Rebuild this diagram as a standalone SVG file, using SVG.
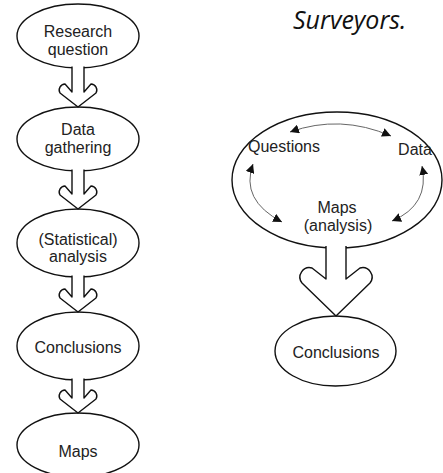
<svg xmlns="http://www.w3.org/2000/svg" width="443" height="473" viewBox="0 0 443 473">
<style>
.node{fill:#fff;stroke:#111;stroke-width:1.4}
.conn{fill:#fff;stroke:#111;stroke-width:1.4;stroke-linejoin:round}
.t{font-family:"Liberation Sans",Arial,sans-serif;font-size:16px;fill:#222;text-anchor:middle}
.cyc{fill:none;stroke:#666;stroke-width:1}
.title{font-family:"Open Sans","Liberation Sans",sans-serif;font-style:italic;font-size:25px;fill:#111}
</style>
<defs>
<marker id="ah" viewBox="0 0 10 10" refX="10" refY="5" markerWidth="9" markerHeight="9" markerUnits="userSpaceOnUse" orient="auto-start-reverse">
<path d="M0,0 L10,5 L0,10 Z" fill="#111"/>
</marker>
</defs>
<rect width="443" height="473" fill="#fff"/>
<text class="title" x="293" y="29">Surveyors.</text>

<g id="n-research">
<ellipse class="node" cx="78" cy="36" rx="61" ry="32"/>
<text class="t" x="78" y="37">Research</text>
<text class="t" x="78" y="55">question</text>
</g>
<g id="n-data">
<ellipse class="node" cx="78" cy="139" rx="61" ry="32"/>
<text class="t" x="78" y="135">Data</text>
<text class="t" x="78" y="153">gathering</text>
</g>
<g id="n-stat">
<ellipse class="node" cx="78" cy="243" rx="61" ry="34"/>
<text class="t" x="78" y="245">(Statistical)</text>
<text class="t" x="78" y="262">analysis</text>
</g>
<g id="n-concl-left">
<ellipse class="node" cx="78" cy="346" rx="61" ry="34"/>
<text class="t" x="78" y="353">Conclusions</text>
</g>
<g id="n-maps">
<ellipse class="node" cx="78" cy="445" rx="61" ry="32"/>
<text class="t" x="78" y="457">Maps</text>
</g>

<g id="n-cycle">
<ellipse class="node" cx="337" cy="180" rx="105" ry="68"/>
<text class="t" x="284" y="152">Questions</text>
<text class="t" x="415" y="155">Data</text>
<text class="t" x="337" y="213">Maps</text>
<text class="t" x="338" y="231">(analysis)</text>
</g>
<g id="n-concl-right">
<ellipse class="node" cx="335.5" cy="351" rx="60.5" ry="35"/>
<text class="t" x="336" y="358">Conclusions</text>
</g>

<g id="connectors">
<path class="conn" d="M72,66.5 V92 L65,84 A6,6 0 0 0 60,93 L78,107 L96,93 A6,6 0 0 0 91,84 L84,92 V66.5"/>
<path class="conn" d="M72,169.5 V194 L65,186 A6,6 0 0 0 60,195 L78,209 L96,195 A6,6 0 0 0 91,186 L84,194 V169.5"/>
<path class="conn" d="M72,275.5 V297 L65,289 A6,6 0 0 0 60,298 L78,312 L96,298 A6,6 0 0 0 91,289 L84,297 V275.5"/>
<path class="conn" d="M72,378.5 V398 L65,390 A6,6 0 0 0 60,399 L78,413 L96,399 A6,6 0 0 0 91,390 L84,398 V378.5"/>
<path class="conn" d="M326,246 V279 L312,268 A9.5,9.5 0 0 0 302,283 L336,316 L370,283 A9.5,9.5 0 0 0 360,268 L346,279 V246"/>
<path class="cyc" d="M290,132 Q340,114 391,136" marker-start="url(#ah)" marker-end="url(#ah)"/>
<path class="cyc" d="M253,164 Q240,200 282,222" marker-start="url(#ah)" marker-end="url(#ah)"/>
<path class="cyc" d="M422,166 Q430,205 392,221" marker-start="url(#ah)" marker-end="url(#ah)"/>
</g>
</svg>
